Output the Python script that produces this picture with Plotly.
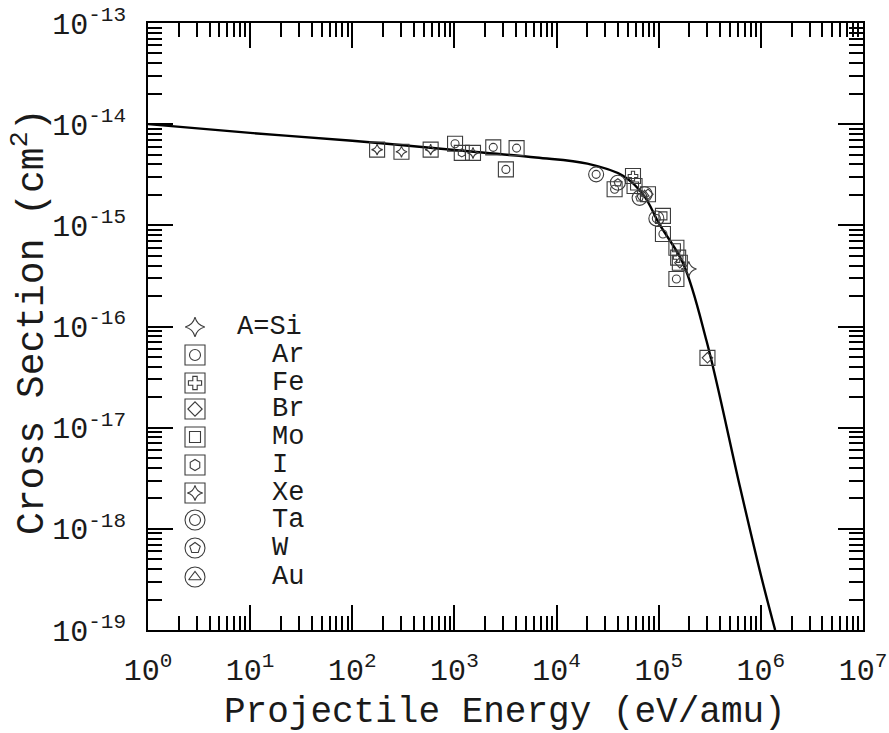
import plotly.graph_objects as go

# Fitted cross-section curve (energy in eV/amu, cross section in cm^2)
fit_energy = [1, 10, 100, 1.0e3, 6.3e3, 2.0e4, 4.47e4, 7.08e4, 1.02e5, 1.74e5, 2.95e5, 6.3e5, 1.0e6, 1.38e6]
fit_sigma = [1.0e-14, 8.2e-15, 6.85e-15, 5.55e-15, 4.68e-15, 4.07e-15, 3.09e-15, 2.0e-15,
             1.02e-15, 4.17e-16, 7.1e-17, 2.5e-18, 3.5e-19, 1.0e-19]

# Measured cross sections per projectile species
si_energy = [1.97e5]
si_sigma = [3.7e-16]
ar_energy = [1014, 2400, 4060, 3190, 3.70e4, 1.10e5, 1.49e5]
ar_sigma = [6.4e-15, 5.9e-15, 5.8e-15, 3.57e-15, 2.27e-15, 8.2e-16, 2.95e-16]
fe_energy = [5.6e4, 1.55e5]
fe_sigma = [3.07e-15, 4.8e-16]
br_energy = [7.85e4, 1.61e5, 3.0e5]
br_sigma = [2.03e-15, 4.27e-16, 4.9e-17]
mo_energy = [5.8e4, 1.10e5, 1.49e5]
mo_sigma = [2.45e-15, 1.24e-15, 6.0e-16]
i_energy = [1180]
i_sigma = [5.2e-15]
xe_energy = [175, 303, 585, 1520]
xe_sigma = [5.6e-15, 5.33e-15, 5.6e-15, 5.2e-15]
ta_energy = [2.44e4, 9.48e4]
ta_sigma = [3.19e-15, 1.17e-15]
w_energy = [3.98e4, 6.5e4]
w_sigma = [2.64e-15, 1.87e-15]
au_energy = [7.28e4]
au_sigma = [2.03e-15]

species_labels = ["A=Si", "Ar", "Fe", "Br", "Mo", "I", "Xe", "Ta", "W", "Au"]

x_tick_vals = [1, 10, 100, 1e3, 1e4, 1e5, 1e6, 1e7]
x_tick_text = ["10<sup>%d</sup>" % k for k in range(0, 8)]
y_tick_vals = [1e-19, 1e-18, 1e-17, 1e-16, 1e-15, 1e-14, 1e-13]
y_tick_text = ["10<sup>%d</sup>" % k for k in range(-19, -12)]

INK = "#1a1a1a"
MARK = "#3c3c3c"
FONT = "Liberation Mono"

# marker recipe for each species: (outer symbol, inner symbol)
styles = {
    "A=Si": (None, "star-diamond-open"),
    "Ar": ("square-open", "circle-open"),
    "Fe": ("square-open", "cross-open"),
    "Br": ("square-open", "diamond-open"),
    "Mo": ("square-open", "square-open"),
    "I": ("square-open", "hexagon-open"),
    "Xe": ("square-open", "star-diamond-open"),
    "Ta": ("circle-open", "circle-open"),
    "W": ("circle-open", "pentagon-open"),
    "Au": ("circle-open", "triangle-up-open"),
}
series = {
    "A=Si": (si_energy, si_sigma),
    "Ar": (ar_energy, ar_sigma),
    "Fe": (fe_energy, fe_sigma),
    "Br": (br_energy, br_sigma),
    "Mo": (mo_energy, mo_sigma),
    "I": (i_energy, i_sigma),
    "Xe": (xe_energy, xe_sigma),
    "Ta": (ta_energy, ta_sigma),
    "W": (w_energy, w_sigma),
    "Au": (au_energy, au_sigma),
}

fig = go.Figure()

fig.add_trace(go.Scatter(x=fit_energy, y=fit_sigma, mode="lines",
                         line=dict(color="black", width=2.4, shape="spline", smoothing=1.0),
                         showlegend=False, hoverinfo="skip"))


def add_marker(fig, x, y, name, outer_size, inner_size, xaxis="x", yaxis="y"):
    outer, inner = styles[name]
    if outer is not None:
        fig.add_trace(go.Scatter(x=x, y=y, mode="markers", xaxis=xaxis, yaxis=yaxis,
                                 marker=dict(symbol=outer, size=outer_size, color=MARK,
                                             line=dict(width=1.1, color=MARK)),
                                 showlegend=False, hoverinfo="skip"))
    fig.add_trace(go.Scatter(x=x, y=y, mode="markers", xaxis=xaxis, yaxis=yaxis,
                             marker=dict(symbol=inner, size=inner_size, color=MARK,
                                         line=dict(width=1.1, color=MARK)),
                             showlegend=False, hoverinfo="skip"))


for name in species_labels:
    ex, sy = series[name]
    add_marker(fig, ex, sy, name, 15, 11 if name == "A=Si" else 8)

# Key drawn inside the plot on an auxiliary unit axis
L, R, T, B = 148, 26, 23, 103
W_PX, H_PX = 889, 733
plot_w = W_PX - L - R
plot_h = H_PX - T - B
key_x_px = 195
key_rows_px = [327, 355, 383, 409, 437, 465, 493, 520, 548, 577]
for name, row in zip(species_labels, key_rows_px):
    kx = (key_x_px - L) / plot_w
    ky = (H_PX - B - row) / plot_h
    add_marker(fig, [kx], [ky], name, 20, 14 if name == "A=Si" else 11, xaxis="x2", yaxis="y2")
    text_px = 235 if name == "A=Si" else 270
    fig.add_annotation(x=(text_px - L) / plot_w, y=ky, xref="x2", yref="y2", text=name,
                       showarrow=False, xanchor="left", yanchor="middle",
                       font=dict(family=FONT, size=27, color=INK))

axis_common = dict(showgrid=False, zeroline=False, showline=True, linecolor="black", linewidth=2,
                   ticks="inside", tickcolor="black", tickwidth=1.5, ticklen=25, mirror="allticks",
                   automargin=False, tickfont=dict(family=FONT, size=30, color=INK))
minor_common = dict(ticks="inside", ticklen=14, tickcolor="black", tickwidth=1.5, dtick="D1",
                    showgrid=False)

fig.update_layout(
    width=W_PX, height=H_PX,
    margin=dict(l=L, r=R, t=T, b=B, autoexpand=False),
    paper_bgcolor="white", plot_bgcolor="white",
    showlegend=False,
    xaxis=dict(type="log", range=[0, 7], tickvals=x_tick_vals, ticktext=x_tick_text,
               minor=minor_common, ticklabelstandoff=12, **axis_common),
    yaxis=dict(type="log", range=[-19, -13], tickvals=y_tick_vals, ticktext=y_tick_text,
               minor=minor_common, ticklabelstandoff=14, **axis_common),
    xaxis2=dict(overlaying="x", range=[0, 1], visible=False, fixedrange=True),
    yaxis2=dict(overlaying="y", range=[0, 1], visible=False, fixedrange=True),
)

fig.add_annotation(x=(505 - L) / plot_w, y=(H_PX - B - 712) / plot_h, xref="paper", yref="paper",
                   xanchor="center", yanchor="middle", text="Projectile Energy (eV/amu)",
                   showarrow=False, font=dict(family=FONT, size=36, color=INK))
fig.add_annotation(x=(29 - L) / plot_w, y=(H_PX - B - 322) / plot_h, xref="paper", yref="paper",
                   xanchor="center", yanchor="middle", text="Cross Section (cm<sup>2</sup>)",
                   showarrow=False, textangle=-90, font=dict(family=FONT, size=38, color=INK))

fig.write_html("out.html")
